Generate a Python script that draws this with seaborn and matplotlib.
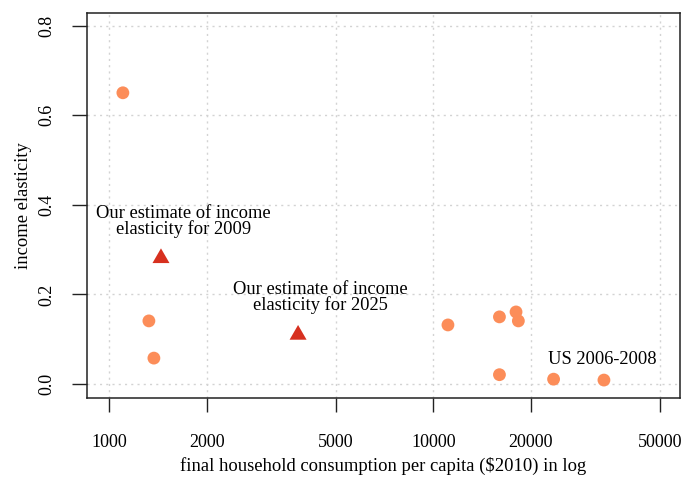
import matplotlib
matplotlib.use("Agg")
import matplotlib.pyplot as plt
import seaborn as sns
import pandas as pd
from matplotlib.ticker import FixedLocator, NullLocator

# observed countries
obs_x = [1104, 1328, 1376, 11100, 16000, 18000, 18300, 16000, 23500, 33600]
obs_y = [0.65, 0.141, 0.058, 0.132, 0.150, 0.161, 0.141, 0.021, 0.011, 0.009]

# our estimates
est_x = [1447, 3830]
est_y = [0.281, 0.110]
est_labels = ["Our estimate of income\nelasticity for 2009",
              "Our estimate of income\nelasticity for 2025"]

x_ticks = [1000, 2000, 5000, 10000, 20000, 50000]
y_ticks = [0.0, 0.2, 0.4, 0.6, 0.8]

sns.set_style("white")
plt.rcParams['font.family'] = ['Liberation Serif', 'DejaVu Serif']
plt.rcParams.update({'text.color': 'black', 'axes.labelcolor': 'black',
                     'xtick.color': 'black', 'ytick.color': 'black'})

fig = plt.figure(figsize=(6.86, 4.83), dpi=100)
ax = fig.add_axes([0.1264, 0.176, 0.865, 0.798])

obs = pd.DataFrame({'x': obs_x, 'y': obs_y})
est = pd.DataFrame({'x': est_x, 'y': est_y})

tri = [(0, 1), (-0.866, -0.5), (0.866, -0.5), (0, 1)]

sns.scatterplot(data=obs, x='x', y='y', color='#FC8D59', s=85,
                edgecolor='none', ax=ax, zorder=3)
sns.scatterplot(data=est, x='x', y='y', color='#D7301F', marker=tri, s=200,
                edgecolor='none', ax=ax, zorder=3)

ax.set_xscale('log')
ax.set_xlim(854, 57700)
ax.set_ylim(-0.031, 0.829)
ax.xaxis.set_major_locator(FixedLocator(x_ticks))
ax.xaxis.set_minor_locator(NullLocator())
ax.set_xticklabels([str(t) for t in x_ticks])
ax.set_yticks(y_ticks)
ax.set_yticklabels([f"{t:.1f}" for t in y_ticks], rotation=90, va='center')

ax.grid(True, color='#d3d3d3', linestyle=(0, (1.5, 3)), linewidth=1)
for s in ax.spines.values():
    s.set_color('#222222')
    s.set_linewidth(1.1)

ax.tick_params(axis='x', length=10, width=1, pad=16, labelsize=13)
ax.tick_params(axis='y', length=10.5, width=1, pad=12, labelsize=13)
ax.tick_params(which='both', direction='out', color='#222222', bottom=True, left=True)

ax.set_xlabel("final household consumption per capita ($2010) in log", fontsize=13.4, labelpad=4)
ax.set_ylabel("income elasticity", fontsize=13.4, labelpad=5)

# annotations
ax.text(1697, 0.363, est_labels[0], ha='center', va='center', fontsize=13.3, linespacing=0.92)
ax.text(4474, 0.193, est_labels[1], ha='center', va='center', fontsize=13.3, linespacing=0.92)
ax.text(33100, 0.054, "US 2006-2008", ha='center', va='center', fontsize=13.3)

fig.savefig("out.png", dpi=100)
